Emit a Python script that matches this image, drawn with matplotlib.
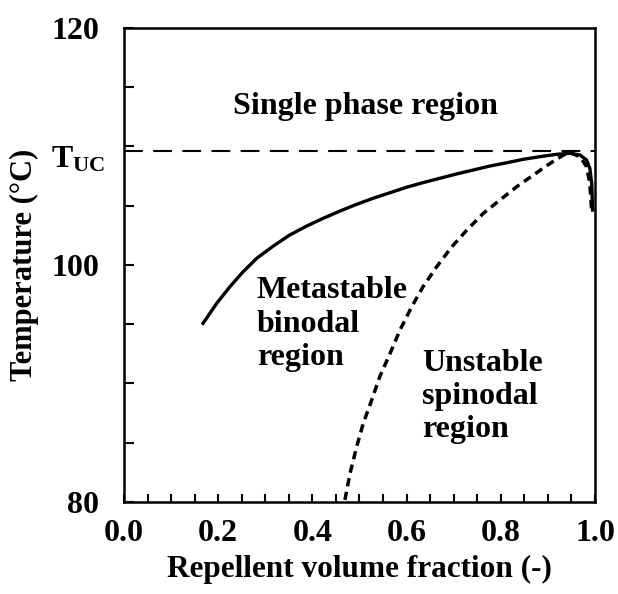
import matplotlib.pyplot as plt

plt.rcParams["font.family"] = ["Liberation Serif", "DejaVu Serif"]
plt.rcParams["font.weight"] = "bold"
plt.rcParams["mathtext.fontset"] = "custom"
plt.rcParams["mathtext.rm"] = "Liberation Serif:bold"
plt.rcParams["mathtext.it"] = "Liberation Serif:bold"
plt.rcParams["mathtext.bf"] = "Liberation Serif:bold"

# ---- data ----
binodal_phi = [0.168, 0.197, 0.225, 0.253, 0.282, 0.317, 0.352, 0.388, 0.423,
               0.459, 0.494, 0.529, 0.565, 0.600, 0.635, 0.671, 0.706, 0.742,
               0.777, 0.813, 0.848, 0.883, 0.919, 0.947, 0.968, 0.982, 0.989,
               0.993, 0.995]
binodal_T = [95.08, 96.77, 98.17, 99.43, 100.57, 101.60, 102.53, 103.29, 103.94,
             104.56, 105.12, 105.63, 106.10, 106.56, 106.95, 107.32, 107.68, 108.02,
             108.35, 108.63, 108.92, 109.14, 109.34, 109.43, 109.28, 108.86, 108.16,
             106.89, 104.64]

spinodal_phi = [0.469, 0.480, 0.494, 0.508, 0.526, 0.543, 0.565, 0.586, 0.611,
                0.635, 0.664, 0.696, 0.728, 0.763, 0.798, 0.834, 0.869, 0.905,
                0.933, 0.947, 0.968, 0.982, 0.989, 0.993]
spinodal_T = [80.17, 82.42, 84.67, 86.64, 88.61, 90.57, 92.55, 94.51, 96.48,
              98.17, 99.86, 101.54, 102.95, 104.36, 105.48, 106.61, 107.59, 108.58,
              109.28, 109.48, 109.14, 108.30, 106.89, 104.50]

T_uc = 109.6

xticks = [0.0, 0.2, 0.4, 0.6, 0.8, 1.0]
xtick_labels = ["0.0", "0.2", "0.4", "0.6", "0.8", "1.0"]
yticks = [80, 85, 90, 95, 100, 105, 110, 115, 120]
ytick_labels = ["80", "", "", "", "100", "", "", "", "120"]

fig = plt.figure(figsize=(6.18, 5.94), dpi=100)
ax = fig.add_axes([0.2006, 0.1549, 0.7622, 0.798])

ax.plot(binodal_phi, binodal_T, color="black", linewidth=2.4,
        solid_joinstyle="round")
ax.plot(spinodal_phi, spinodal_T, color="black", linewidth=2.5,
        linestyle=(0, (2.4, 1.6)))
ax.axhline(T_uc, color="black", linewidth=1.5, linestyle=(0, (9, 5)))

ax.set_xlim(0, 1.0)
ax.set_ylim(80, 120)

ax.set_xticks(xticks)
ax.set_xticklabels(xtick_labels)
ax.set_xticks([i * 0.05 for i in range(21)], minor=True)
ax.set_yticks(yticks)
ax.set_yticklabels(ytick_labels)

ax.tick_params(axis="x", which="both", direction="in", length=6, width=1.5,
               labelsize=23, pad=12, top=False)
ax.tick_params(axis="y", which="both", direction="in", length=7, width=1.5,
               labelsize=23, pad=18, right=False)
for s in ax.spines.values():
    s.set_linewidth(1.8)

ax.text(-0.04, T_uc - 0.7, r"$\mathrm{T}_{\mathrm{UC}}$", transform=ax.get_yaxis_transform(),
        ha="right", va="center", fontsize=23)

ax.set_xlabel("Repellent volume fraction (-)", fontsize=22.5, fontweight="bold", labelpad=5)
ax.set_ylabel("Temperature (°C)", fontsize=22, fontweight="bold", labelpad=9)

ax.text(0.231, 113.4, "Single phase region", fontsize=23, fontweight="bold",
        ha="left", va="center")
ax.text(0.282, 95.0, "Metastable\nbinodal\nregion", fontsize=23, fontweight="bold",
        ha="left", va="center", linespacing=1.2)
ax.text(0.633, 88.9, "Unstable\nspinodal\nregion", fontsize=23, fontweight="bold",
        ha="left", va="center", linespacing=1.2)

fig.savefig("out.png", dpi=100)
